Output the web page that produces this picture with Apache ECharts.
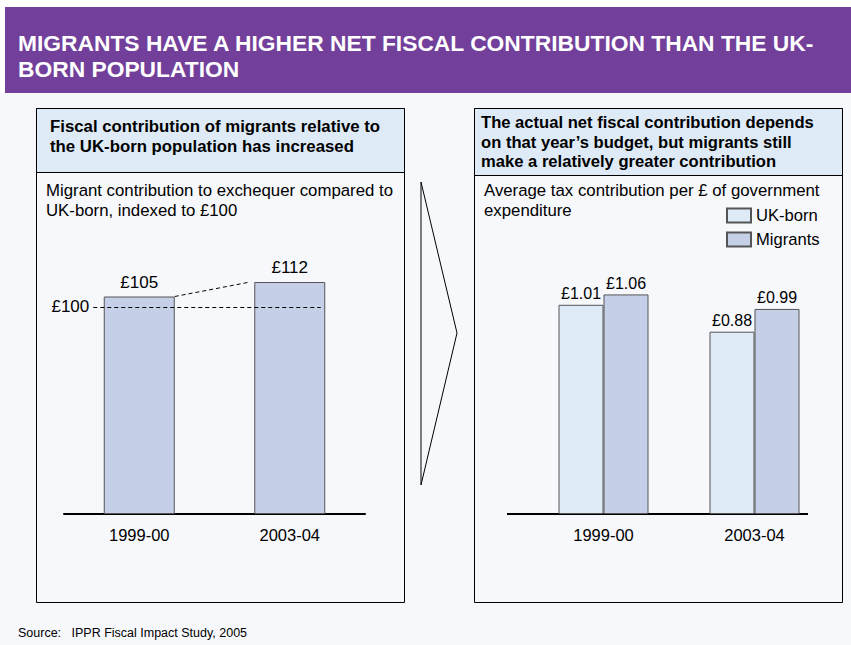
<!DOCTYPE html>
<html>
<head>
<meta charset="utf-8">
<title>Migrants have a higher net fiscal contribution than the UK-born population</title>
<script src="https://cdn.jsdelivr.net/npm/echarts@6/dist/echarts.min.js"></script>
<style>
  html, body { margin: 0; padding: 0; background: #f7f8fc; }
  #chart { width: 851px; height: 645px; }
</style>
</head>
<body>
<div id="chart"></div>
<script>
// Fiscal year categories shared by both panels
const years = ['1999-00', '2003-04'];

// Left panel: migrant contribution to the exchequer, UK-born indexed to £100
const migrantIndex = [105, 112];
const ukBornIndex = 100;

// Right panel: average tax contribution per £ of government expenditure
const ukBornPerPound = [1.01, 0.88];
const migrantsPerPound = [1.06, 0.99];

const FONT = '"Liberation Sans", Arial, Helvetica, sans-serif';
const PURPLE = '#72409a';
const PALE_BLUE = '#deebf7';
const BAR_BLUE = '#c6cfe8';
const BORDER = '#555';

const chart = echarts.init(document.getElementById('chart'), null, { renderer: 'svg' });

function txt(text, x, y, size, bold, fill) {
  return {
    type: 'text',
    silent: true,
    style: {
      text: text,
      x: x,
      y: y,
      font: (bold ? 'bold ' : '') + size + 'px ' + FONT,
      fill: fill || '#000',
      textVerticalAlign: 'middle'
    }
  };
}

const graphics = [
  // page header band
  { type: 'rect', silent: true, shape: { x: 0, y: 0, width: 851, height: 7 }, style: { fill: '#fff' } },
  { type: 'rect', silent: true, shape: { x: 0, y: 7, width: 5, height: 86 }, style: { fill: '#fff' } },
  { type: 'rect', silent: true, shape: { x: 5, y: 7, width: 846, height: 86 }, style: { fill: PURPLE } },
  txt('MIGRANTS HAVE A HIGHER NET FISCAL CONTRIBUTION THAN THE UK-', 18, 43, 22.8, true, '#fff'),
  txt('BORN POPULATION', 18, 69, 22.8, true, '#fff'),

  // left panel frame and heading
  { type: 'rect', silent: true, shape: { x: 36.5, y: 108.5, width: 368, height: 494 }, style: { fill: 'none', stroke: '#000', lineWidth: 1 } },
  { type: 'rect', silent: true, shape: { x: 36.5, y: 108.5, width: 368, height: 64 }, style: { fill: PALE_BLUE, stroke: '#000', lineWidth: 1 } },
  txt('Fiscal contribution of migrants relative to', 50, 126, 16.8, true),
  txt('the UK-born population has increased', 50, 146, 16.8, true),
  txt('Migrant contribution to exchequer compared to', 46, 190, 16.8, false),
  txt('UK-born, indexed to £100', 46, 210, 16.8, false),

  // right panel frame and heading
  { type: 'rect', silent: true, shape: { x: 474.5, y: 108.5, width: 368, height: 494 }, style: { fill: 'none', stroke: '#000', lineWidth: 1 } },
  { type: 'rect', silent: true, shape: { x: 474.5, y: 108.5, width: 368, height: 67 }, style: { fill: PALE_BLUE, stroke: '#000', lineWidth: 1 } },
  txt('The actual net fiscal contribution depends', 481, 122, 16.6, true),
  txt('on that year\u2019s budget, but migrants still', 481, 142, 16.6, true),
  txt('make a relatively greater contribution', 481, 161, 16.6, true),
  txt('Average tax contribution per £ of government', 484, 190, 16.8, false),
  txt('expenditure', 484, 210, 16.8, false),

  // arrow between the panels
  { type: 'polygon', silent: true, shape: { points: [[421, 182], [457, 333], [421, 485]] }, style: { fill: 'none', stroke: '#000', lineWidth: 1 } },

  // baseline under the right-hand bars
  { type: 'line', silent: true, shape: { x1: 507, y1: 514, x2: 808, y2: 514 }, style: { stroke: '#000', lineWidth: 2 } },

  txt('Source:   IPPR Fiscal Impact Study, 2005', 18, 633, 12.5, false)
];

const labelBase = { color: '#000', fontFamily: FONT };

const option = {
  backgroundColor: '#f7f8fc',
  animation: false,
  textStyle: { fontFamily: FONT },
  graphic: { elements: graphics },
  legend: {
    data: ['UK-born', 'Migrants'],
    orient: 'vertical',
    left: 721,
    top: 202,
    itemWidth: 24,
    itemHeight: 14,
    itemGap: 7,
    icon: 'rect',
    textStyle: { fontSize: 16.6, color: '#000', fontFamily: FONT },
    selectedMode: false
  },
  grid: [
    { left: 64, width: 301, top: 224, height: 290 },
    { left: 528, width: 302, top: 224, height: 290 }
  ],
  xAxis: [
    {
      type: 'category', gridIndex: 0, data: years,
      axisLine: { lineStyle: { color: '#000', width: 2 } },
      axisTick: { show: false },
      axisLabel: { fontSize: 16.5, color: '#000', fontFamily: FONT, margin: 12 }
    },
    {
      type: 'category', gridIndex: 1, data: years,
      axisLine: { show: false },
      axisTick: { show: false },
      axisLabel: { fontSize: 16.5, color: '#000', fontFamily: FONT, margin: 12 }
    }
  ],
  yAxis: [
    { type: 'value', gridIndex: 0, min: 0, max: 140, show: false, splitLine: { show: false } },
    { type: 'value', gridIndex: 1, min: 0, max: 1.4, show: false, splitLine: { show: false } }
  ],
  series: [
    {
      name: 'Migrant index',
      type: 'bar',
      xAxisIndex: 0,
      yAxisIndex: 0,
      data: migrantIndex,
      barWidth: 71,
      itemStyle: { color: BAR_BLUE, borderColor: BORDER, borderWidth: 1 },
      label: Object.assign({ show: true, position: 'top', distance: 6, fontSize: 17,
        formatter: p => '£' + p.value }, labelBase),
      markLine: {
        silent: true,
        symbol: 'none',
        lineStyle: { color: '#000', width: 1, type: [4, 3] },
        label: { show: false },
        data: []
      }
    },
    {
      name: 'UK-born',
      type: 'bar',
      xAxisIndex: 1,
      yAxisIndex: 1,
      data: ukBornPerPound,
      barWidth: 45,
      barGap: '0%',
      itemStyle: { color: PALE_BLUE, borderColor: BORDER, borderWidth: 1 },
      label: Object.assign({ show: true, position: 'top', distance: 3, fontSize: 16,
        formatter: p => '£' + p.value.toFixed(2) }, labelBase)
    },
    {
      name: 'Migrants',
      type: 'bar',
      xAxisIndex: 1,
      yAxisIndex: 1,
      data: migrantsPerPound,
      barWidth: 45,
      barGap: '0%',
      itemStyle: { color: BAR_BLUE, borderColor: BORDER, borderWidth: 1 },
      label: Object.assign({ show: true, position: 'top', distance: 3, fontSize: 16,
        formatter: p => '£' + p.value.toFixed(2) }, labelBase)
    }
  ]
};

chart.setOption(option);

// Reference line at the UK-born index and the dashed link between the bar tops,
// placed from the laid-out bar positions.
const half = 71 / 2;
const c0 = chart.convertToPixel({ xAxisIndex: 0 }, years[0]);
const c1 = chart.convertToPixel({ xAxisIndex: 0 }, years[1]);
chart.setOption({
  series: [{
    name: 'Migrant index',
    markLine: {
      data: [
        [
          { x: c0 - 46, yAxis: ukBornIndex,
            label: { show: true, position: 'start', formatter: '£' + ukBornIndex, fontSize: 17, color: '#000', fontFamily: FONT, distance: 4 } },
          { x: c1 + 31, yAxis: ukBornIndex }
        ],
        [
          { x: c0 + half, yAxis: migrantIndex[0] },
          { x: c1 - half - 4, yAxis: migrantIndex[1] }
        ]
      ]
    }
  }]
});
</script>
</body>
</html>
